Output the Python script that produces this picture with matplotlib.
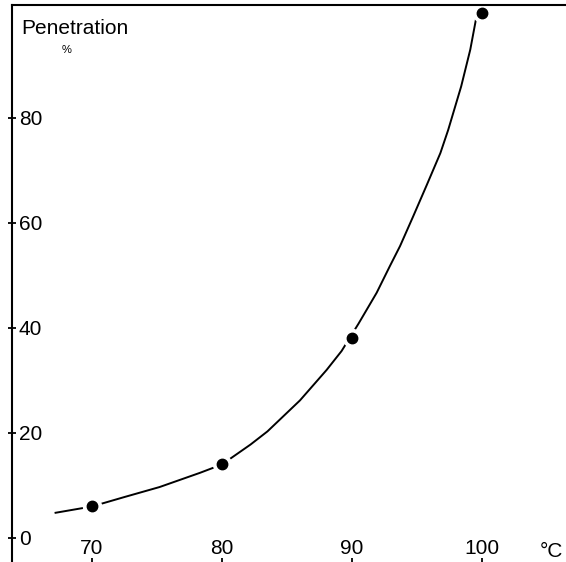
import matplotlib
matplotlib.use("Agg")
from matplotlib import pyplot as plt

# measured points
temps = [70, 80, 90, 100]
penetration = [6, 14, 38, 100]

# hand-drawn curve
curve_t = [67.2, 70, 72.5, 75.2, 78.3, 80, 82.2, 83.5, 86.0, 88.05, 89.2,
           90.5, 91.9, 92.9, 93.7, 94.7, 95.75, 96.8, 97.4, 98.4, 99.1, 99.6]
curve_p = [4.8, 6.0, 7.8, 9.7, 12.4, 14.0, 17.8, 20.3, 26.2, 32.0, 35.6,
           40.8, 46.7, 51.7, 55.6, 61.2, 67.2, 73.3, 77.7, 86.0, 93.0, 99.6]

x_ticks = [70, 80, 90, 100]
y_ticks = [0, 20, 40, 60, 80]

plt.rcParams['font.family'] = ['Liberation Sans', 'DejaVu Sans']

fig = plt.figure(figsize=(5.66, 5.62), dpi=100)
ax = fig.add_axes([12 / 566, (562 - 575) / 562, (580 - 12) / 566, (575 - 5) / 562])

ax.plot(curve_t, curve_p, color='black', lw=1.4, zorder=2)
# white halo that breaks the curve round each point
ax.plot(temps, penetration, 'o', color='white', ms=13, zorder=2.2)
ax.plot(temps, penetration, 'o', color='black', ms=7.5, zorder=3)

ax.set_xlim(63.85, 107.54)
ax.set_ylim(-7.05, 101.5)

ax.spines['right'].set_visible(False)
ax.spines['bottom'].set_visible(False)
ax.spines['left'].set_linewidth(1.5)
ax.spines['top'].set_linewidth(1.5)

ax.set_yticks(y_ticks)
ax.tick_params(axis='y', direction='inout', length=6, width=1.3,
               pad=-8, labelsize=15)
for lab in ax.get_yticklabels():
    lab.set_ha('left')

ax.set_xticks(x_ticks)
ax.tick_params(axis='x', direction='in', length=12, width=1.3,
               pad=-26, labelsize=15)

ax.text(0.016, 0.975, 'Penetration', transform=ax.transAxes,
        fontsize=15, va='top', ha='left')
ax.text(0.088, 0.93, '%', transform=ax.transAxes,
        fontsize=8, va='top', ha='left')
ax.text(0.93, 0.042, '°C', transform=ax.transAxes,
        fontsize=15, va='center', ha='left')

fig.savefig('out.png', dpi=100)
